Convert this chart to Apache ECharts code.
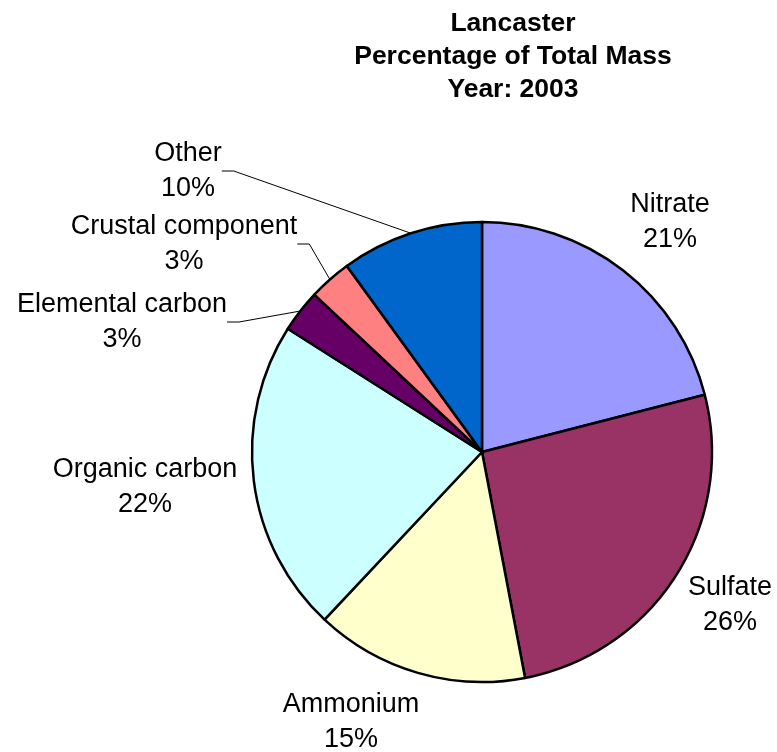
<!DOCTYPE html>
<html>
<head>
<meta charset="utf-8">
<script src="https://cdn.jsdelivr.net/npm/echarts@6/dist/echarts.min.js"></script>
<style>
  html, body { margin: 0; padding: 0; background: #ffffff; }
  #chart { width: 777px; height: 752px; }
</style>
</head>
<body>
<div id="chart"></div>
<script>
// Composition of total mass, Lancaster 2003 (percent)
const categories = ['Nitrate', 'Sulfate', 'Ammonium', 'Organic carbon', 'Elemental carbon', 'Crustal component', 'Other'];
const shares = [21, 26, 15, 22, 3, 3, 10];
const sliceColors = ['#9999FF', '#993366', '#FFFFCC', '#CCFFFF', '#660066', '#FF8080', '#0066CC'];
const hasLeader = [false, false, false, false, true, true, true];
const titleLines = ['Lancaster', 'Percentage of Total Mass', 'Year: 2003'];

// label block centres (pixels)
const labelSpots = [
  [670, 222], [730, 605], [351, 722], [145, 487],
  [122, 322], [184, 244], [188, 171]
];

const chart = echarts.init(document.getElementById('chart'), null, { renderer: 'canvas' });

const data = categories.map((name, i) => ({
  name: name,
  value: shares[i],
  itemStyle: { color: sliceColors[i] },
  labelLine: { show: hasLeader[i] }
}));

chart.setOption({
  animation: false,
  backgroundColor: '#ffffff',
  title: titleLines.map((t, i) => ({
    text: t,
    left: 508,
    top: 5 + i * 33,
    textAlign: 'center',
    textStyle: {
      fontFamily: 'Liberation Sans, Arial, sans-serif',
      fontSize: 26.5,
      fontWeight: 'bold',
      color: '#000000'
    }
  })),
  series: [{
    type: 'pie',
    center: [482, 452],
    radius: [0, 230],
    startAngle: 90,
    clockwise: true,
    avoidLabelOverlap: false,
    itemStyle: { borderColor: '#000000', borderWidth: 2.5 },
    label: {
      show: true,
      position: 'outside',
      formatter: p => p.name + '\n' + p.value + '%',
      fontFamily: 'Liberation Sans, Arial, sans-serif',
      fontSize: 27,
      lineHeight: 35,
      color: '#000000',
      align: 'center'
    },
    labelLine: {
      length: 10,
      length2: 12,
      lineStyle: { color: '#000000', width: 1 }
    },
    labelLayout: function (p) {
      const s = labelSpots[p.dataIndex];
      return { x: s[0], y: s[1], align: 'center', verticalAlign: 'middle' };
    },
    emphasis: { disabled: true },
    data: data
  }]
});
</script>
</body>
</html>
